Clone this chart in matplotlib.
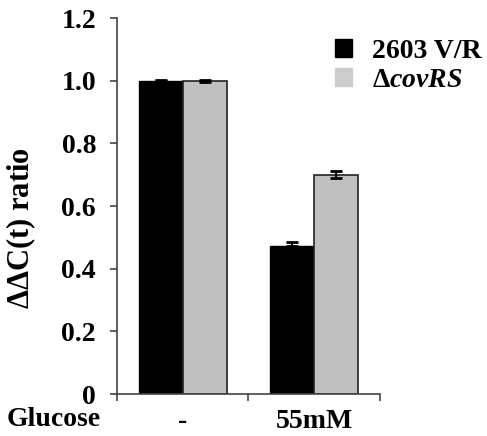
import numpy as np
import matplotlib
matplotlib.use("Agg")
import matplotlib.pyplot as plt
from matplotlib.patches import Patch

plt.rcParams['font.family'] = ['Liberation Serif', 'DejaVu Serif']
plt.rcParams['font.weight'] = 'bold'
plt.rcParams['mathtext.fontset'] = 'custom'
plt.rcParams['mathtext.rm'] = 'Liberation Serif:bold'
plt.rcParams['mathtext.it'] = 'Liberation Serif:italic:bold'
plt.rcParams['mathtext.bf'] = 'Liberation Serif:bold'

# data
groups = ['-', '55mM']
wt_vals = [1.00, 0.473]
wt_err = [0.003, 0.012]
mut_vals = [1.00, 0.700]
mut_err = [0.003, 0.012]
series_labels = ['2603 V/R', r'$\Delta\mathit{covRS}$']
y_ticks = [0, 0.2, 0.4, 0.6, 0.8, 1.0, 1.2]
y_tick_labels = ['0', '0.2', '0.4', '0.6', '0.8', '1.0', '1.2']

fig = plt.figure(figsize=(4.87, 4.36), dpi=100)
ax = fig.add_axes([0.240, 0.0963, 0.540, 0.8624])

x = np.arange(len(groups))
w = 0.335
ax.bar(x - w / 2, wt_vals, w, color='black', edgecolor='black', linewidth=1.0)
ax.bar(x + w / 2, mut_vals, w, color='#c0c0c0', edgecolor='#222222', linewidth=1.2)
ax.errorbar(x - w / 2, wt_vals, yerr=[[0, 0], wt_err], fmt='none', ecolor='black',
            elinewidth=1.5, capsize=4, capthick=2)
ax.errorbar(x + w / 2, mut_vals, yerr=mut_err, fmt='none', ecolor='black',
            elinewidth=1.5, capsize=4, capthick=2)

ax.set_xlim(-0.5, 1.5)
ax.set_ylim(0, 1.2)
ax.set_yticks(y_ticks)
ax.set_yticklabels(y_tick_labels)
ax.set_xticks([-0.5, 0.5, 1.5])
ax.set_xticklabels([])
ax.set_xticks(x, minor=True)
ax.set_xticklabels(groups, minor=True)
ax.tick_params(axis='x', which='major', direction='out', length=5, width=1.2, color='#444444')
ax.tick_params(axis='x', which='minor', length=0, pad=11, labelsize=20)
ax.tick_params(axis='y', direction='out', length=5, width=1.2, color='#444444', pad=10, labelsize=20)

for s in ['top', 'right']:
    ax.spines[s].set_visible(False)
for s in ['left', 'bottom']:
    ax.spines[s].set_color('#444444')
    ax.spines[s].set_linewidth(1.2)

ax.set_ylabel(r'$\Delta\Delta$C(t) ratio', fontsize=22, fontweight='bold')
ax.yaxis.set_label_coords(-0.30, 0.44)
ax.text(-0.418, -0.069, 'Glucose', transform=ax.transAxes, fontsize=20,
        fontweight='bold', ha='left', va='center')

handles = [Patch(facecolor='black', edgecolor='black'),
           Patch(facecolor='#cccccc', edgecolor='#cccccc')]
ax.legend(handles, series_labels, loc='upper left', bbox_to_anchor=(0.83, 0.945),
          frameon=False, fontsize=20, handlelength=0.62, handleheight=0.62,
          handletextpad=0.7, labelspacing=0.15, borderpad=0, borderaxespad=0)

fig.savefig('out.png', dpi=100)
